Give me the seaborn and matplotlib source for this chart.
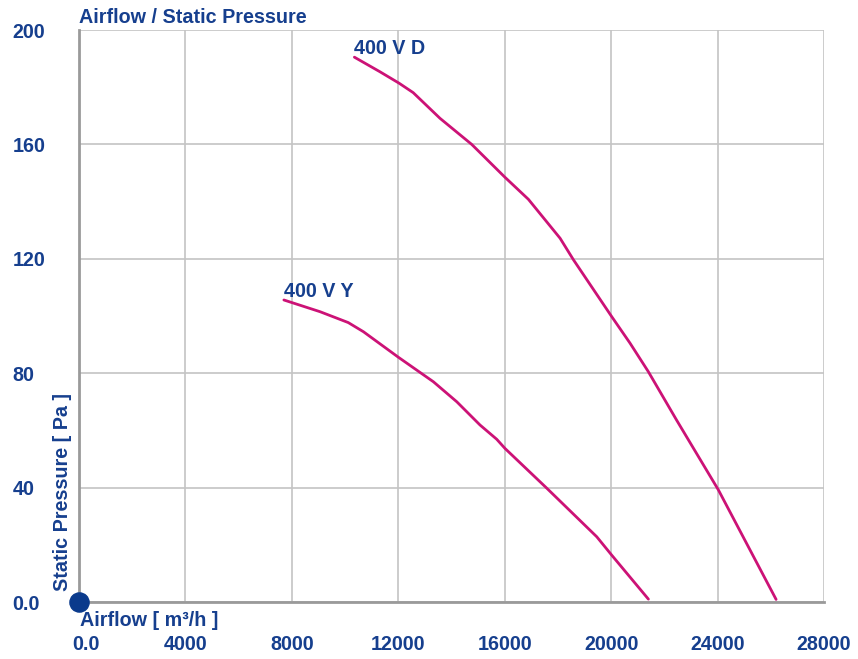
import matplotlib
matplotlib.use("Agg")
import matplotlib.pyplot as plt
import matplotlib.transforms as mtransforms
import numpy as np
import pandas as pd
import seaborn as sns

# Fan performance curves: airflow [m³/h] vs static pressure [Pa]
d_airflow = [10350, 11310, 12030, 12560, 13570, 14760, 16010, 16890, 18080,
             18580, 20020, 20710, 21400, 22460, 24030, 26200]
d_pressure = [190.5, 185.4, 181.4, 178.1, 169.1, 160.0, 148.5, 140.8, 127.2,
              119.7, 99.8, 90.5, 80.5, 63.6, 39.2, 0.9]

y_airflow = [7700, 9060, 10120, 10690, 12000, 13320, 14200, 15070, 15700,
             16010, 17580, 19460, 20020, 21400]
y_pressure = [105.6, 101.5, 97.7, 94.5, 85.6, 77.0, 70.0, 61.9, 56.9,
              53.7, 39.8, 22.8, 16.4, 1.0]

curve_names = ["400 V D", "400 V Y"]

x_ticks = [0, 4000, 8000, 12000, 16000, 20000, 24000, 28000]
x_tick_labels = ["0.0", "4000", "8000", "12000", "16000", "20000", "24000", "28000"]
y_ticks = [0, 40, 80, 120, 160, 200]
y_tick_labels = ["0.0", "40", "80", "120", "160", "200"]

BLUE = "#163f8e"
MAGENTA = "#cc1276"
FS = 14.2

sns.set_style("white")
plt.rcParams["font.family"] = ["Liberation Sans", "DejaVu Sans"]
plt.rcParams["font.weight"] = "bold"

df = pd.concat([
    pd.DataFrame({"airflow": d_airflow, "pressure": d_pressure, "curve": curve_names[0]}),
    pd.DataFrame({"airflow": y_airflow, "pressure": y_pressure, "curve": curve_names[1]}),
])

fig = plt.figure(figsize=(8.58, 6.59), dpi=100)
ax = fig.add_axes([79 / 858, 57 / 659, 745 / 858, 572 / 659])

sns.lineplot(data=df, x="airflow", y="pressure", hue="curve", units="curve",
             estimator=None, sort=False, palette=[MAGENTA, MAGENTA],
             linewidth=2.0, legend=False, ax=ax, zorder=3)

# curve name labels at each curve's first point
for name, xs, ys in [(curve_names[0], d_airflow, d_pressure),
                     (curve_names[1], y_airflow, y_pressure)]:
    ax.annotate(name, (xs[0], ys[0]), xytext=(0, 2), textcoords="offset points",
                ha="left", va="baseline", color=BLUE, fontsize=FS,
                fontweight="bold")

ax.set_xlim(0, 28000)
ax.set_ylim(0, 200)
ax.set_xticks(x_ticks)
ax.set_xticklabels(x_tick_labels, fontweight="bold")
ax.set_yticks(y_ticks)
ax.set_yticklabels(y_tick_labels, fontweight="bold")
ax.tick_params(axis="both", length=0, labelsize=FS, labelcolor=BLUE)
ax.tick_params(axis="y", pad=48)
ax.tick_params(axis="x", pad=23.5)
for lab in ax.get_yticklabels():
    lab.set_horizontalalignment("left")
first = ax.get_xticklabels()[0]
first.set_transform(first.get_transform() +
                    mtransforms.ScaledTranslation(7 / 100, 0, fig.dpi_scale_trans))

ax.grid(True, color="#c4c4c4", linewidth=1.2)
ax.set_axisbelow(True)
for side in ["top", "right"]:
    ax.spines[side].set_visible(False)
for side in ["left", "bottom"]:
    ax.spines[side].set_color("#9a9a9a")
    ax.spines[side].set_linewidth(2)
    ax.spines[side].set_zorder(2.5)

ax.set_xlabel("")
ax.set_ylabel("")
ax.text(0.0, 1.0227, "Airflow / Static Pressure", transform=ax.transAxes,
        ha="left", va="center", color=BLUE, fontsize=FS, fontweight="bold")
ax.text(0.002, -0.0332, "Airflow [ m³/h ]", transform=ax.transAxes,
        ha="left", va="center", color=BLUE, fontsize=FS, fontweight="bold")
ax.text(-0.0225, 0.02, "Static Pressure [ Pa ]", transform=ax.transAxes,
        rotation=90, ha="center", va="bottom", color=BLUE, fontsize=FS,
        fontweight="bold")

ax.scatter([0], [0], s=190, color="#0a3a8c", zorder=5, clip_on=False)

fig.savefig("out.png", dpi=100)
